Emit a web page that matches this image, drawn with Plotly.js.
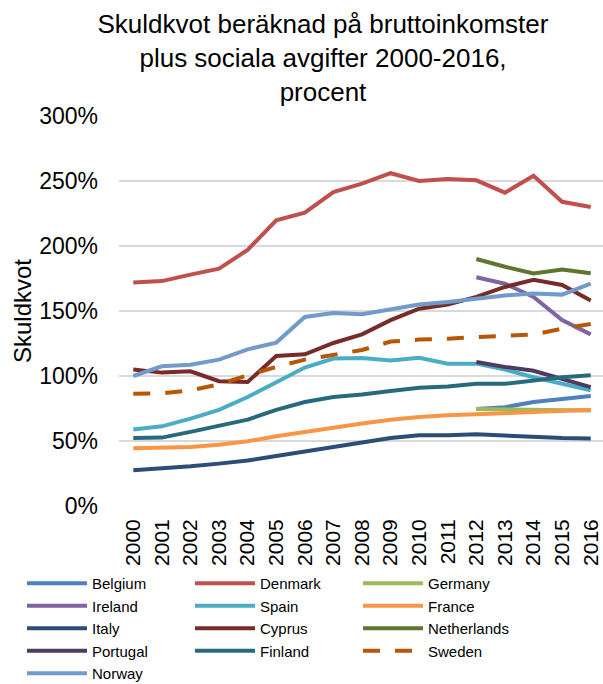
<!DOCTYPE html>
<html>
<head>
<meta charset="utf-8">
<script src="https://cdn.plot.ly/plotly-3.0.1.min.js"></script>
<style>html,body{margin:0;padding:0;background:#fff;}#chart{width:603px;height:684px;}</style>
</head>
<body>
<div id="chart"></div>
<script>
const years = [2000,2001,2002,2003,2004,2005,2006,2007,2008,2009,2010,2011,2012,2013,2014,2015,2016];
const yearsLate = [2012,2013,2014,2015,2016];
const yearTickLabels = years.map(String);

const belgium     = [74.6, 76, 80, 82.6, 84.6];
const denmark     = [172, 173, 178, 182.6, 197, 219.8, 225.7, 241.5, 248, 256, 250, 251.5, 250.5, 241, 254, 234, 230];
const germany     = [74.6, 74.4, 74, 73.6, 73.5];
const ireland     = [176, 171, 160.8, 143, 132];
const spain       = [58.8, 61.3, 67.2, 74, 83.8, 95.4, 106.5, 113.4, 113.9, 112, 114, 109.5, 109.5, 105, 99, 94, 89];
const france      = [44.4, 44.6, 45.4, 47.2, 49.8, 53.6, 57, 60.3, 63.4, 66.4, 68.5, 69.8, 70.5, 71.5, 72, 73, 74];
const italy       = [27.5, 28.7, 30.5, 32.6, 35, 38.5, 42, 45.4, 48.3, 52.3, 54.4, 54.4, 55.2, 54, 53, 52.3, 52];
const cyprus      = [105, 102.6, 103.6, 96, 95.4, 115.4, 116.7, 125.4, 132, 143, 151.8, 155, 160.8, 168.5, 174, 170, 158];
const netherlands = [190, 184, 178.8, 182, 179];
const portugal    = [110.8, 107, 104, 98, 91.5];
const finland     = [52.3, 52.6, 57, 61.5, 66.4, 74, 80, 83.8, 85.7, 88.5, 91, 92, 94, 94, 96.7, 99, 100.5];
const sweden      = [86.4, 86.6, 89, 93.6, 100.5, 107, 112.6, 116, 120, 126.5, 128, 128.7, 130, 131, 131.8, 136.4, 140];
const norway      = [100, 107.5, 108.7, 112.6, 120.5, 125.7, 145.4, 148.5, 147.5, 151, 155, 157, 159.5, 162, 163.4, 162.6, 171];

const yTickVals = [0, 50, 100, 150, 200, 250, 300];
const yTickText = yTickVals.map(v => v + '%');

function tr(name, x, y, color, dash) {
  return {
    type: 'scatter', mode: 'lines', name: name, x: x, y: y,
    line: {color: color, width: 4, dash: dash || 'solid'},
    hoverinfo: 'skip'
  };
}

const data = [
  tr('Belgium', yearsLate, belgium, '#4F81BD'),
  tr('Denmark', years, denmark, '#C0504D'),
  tr('Germany', yearsLate, germany, '#9BBB59'),
  tr('Ireland', yearsLate, ireland, '#8064A2'),
  tr('Spain', years, spain, '#4BACC6'),
  tr('France', years, france, '#F79646'),
  tr('Italy', years, italy, '#2C4D75'),
  tr('Cyprus', years, cyprus, '#772C2A'),
  tr('Netherlands', yearsLate, netherlands, '#5F7530'),
  tr('Portugal', yearsLate, portugal, '#4D3B62'),
  tr('Finland', years, finland, '#276A7C'),
  tr('Sweden', years, sweden, '#B65708', '17px,15px'),
  tr('Norway', years, norway, '#729ACA')
];

const layout = {
  width: 603, height: 684,
  margin: {l: 119, r: 0, t: 116, b: 178, pad: 0, autoexpand: false},
  paper_bgcolor: '#fff', plot_bgcolor: '#fff',
  font: {family: 'Arial, "Liberation Sans", sans-serif', color: '#000'},
  title: {
    text: 'Skuldkvot beräknad på bruttoinkomster<br>plus sociala avgifter 2000-2016,<br>procent',
    font: {size: 26, color: '#000'},
    x: 323/603, xref: 'container', xanchor: 'center',
    y: 1 - 33/684, yref: 'container', yanchor: 'top'
  },
  xaxis: {
    range: [1999.5, 2016.43],
    tickmode: 'array', tickvals: years, ticktext: yearTickLabels,
    tickangle: -90, tickfont: {size: 21, color: '#000'},
    showgrid: false, zeroline: false, showline: false, ticks: '',
    ticklabelstandoff: 8, fixedrange: true, automargin: false
  },
  yaxis: {
    range: [0, 300],
    tickmode: 'array', tickvals: yTickVals, ticktext: yTickText,
    tickfont: {size: 23, color: '#000'},
    showgrid: true, gridcolor: '#D9D9D9', gridwidth: 1.5,
    zeroline: false, showline: false, ticks: '',
    ticklabelstandoff: 20,
    title: {text: 'Skuldkvot', font: {size: 24, color: '#000'}, standoff: 0},
    automargin: false, fixedrange: true
  },
  showlegend: true,
  legend: {
    orientation: 'h',
    x: (22 - 119) / 484, xref: 'paper', xanchor: 'left',
    y: -(567 - 506) / 390, yref: 'paper', yanchor: 'top',
    font: {size: 15, color: '#000'},
    entrywidth: 93, entrywidthmode: 'pixels',
    itemwidth: 60,
    bgcolor: 'rgba(0,0,0,0)', borderwidth: 0,
    traceorder: 'normal', itemclick: false, itemdoubleclick: false
  }
};

Plotly.newPlot('chart', data, layout, {displayModeBar: false, staticPlot: true});
</script>
</body>
</html>
